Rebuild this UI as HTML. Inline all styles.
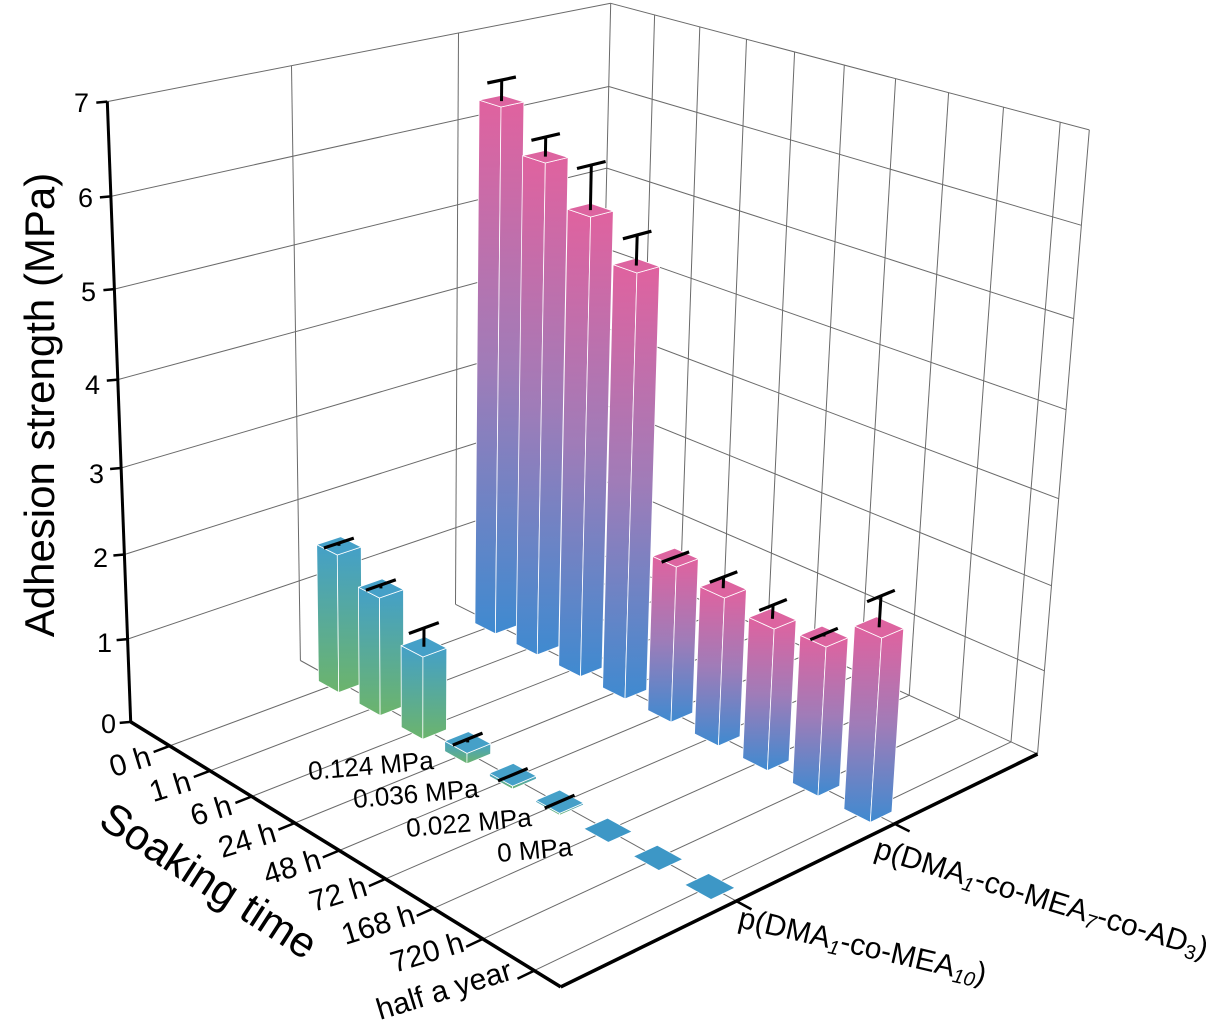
<!DOCTYPE html>
<html><head><meta charset="utf-8">
<style>
html,body{margin:0;padding:0;background:#fff;}
svg{display:block;font-family:"Liberation Sans",Arial,sans-serif;}
</style></head>
<body>
<svg id="s" xmlns="http://www.w3.org/2000/svg" width="1211" height="1021" viewBox="0 0 1211 1021">
<defs>
<linearGradient id="pg" x1="0" y1="0" x2="0" y2="1">
<stop offset="0" stop-color="#e0629f"/><stop offset="0.5" stop-color="#a07cb8"/><stop offset="1" stop-color="#3f8ad0"/>
</linearGradient>
<linearGradient id="bg" x1="0" y1="0" x2="0" y2="1">
<stop offset="0" stop-color="#44a0c8"/><stop offset="1" stop-color="#6cb46c"/>
</linearGradient>
</defs>
<g id="grid"></g>
<g id="bars"></g>
<g id="axes"></g>
<g font-size="27" text-anchor="end" fill="#000">
<text x="116" y="733">0</text>
<text x="112" y="652">1</text>
<text x="108" y="567">2</text>
<text x="104" y="483">3</text>
<text x="100" y="394">4</text>
<text x="96" y="301">5</text>
<text x="93" y="207">6</text>
<text x="89" y="112">7</text>
</g>
<text x="54" y="405" font-size="42" text-anchor="middle" transform="rotate(-90 54 405)">Adhesion strength (MPa)</text>
<g font-size="30" text-anchor="end">
<text x="153" y="765" transform="rotate(-17 153 765)">0 h</text>
<text x="193" y="790" transform="rotate(-17 193 790)">1 h</text>
<text x="234" y="814" transform="rotate(-17 234 814)">6 h</text>
<text x="278" y="841" transform="rotate(-17 278 841)">24 h</text>
<text x="323" y="868" transform="rotate(-17 323 868)">48 h</text>
<text x="369" y="895" transform="rotate(-17 369 895)">72 h</text>
<text x="417" y="923" transform="rotate(-17 417 923)">168 h</text>
<text x="466" y="951" transform="rotate(-17 466 951)">720 h</text>
<text x="514" y="979" transform="rotate(-17 514 979)">half a year</text>
</g>
<text x="201" y="893" font-size="43" text-anchor="middle" transform="rotate(33 201 893)">Soaking time</text>
<g font-size="26">
<text x="309" y="780" transform="rotate(-5 309 780)">0.124 MPa</text>
<text x="354" y="808" transform="rotate(-5 354 808)">0.036 MPa</text>
<text x="407" y="837" transform="rotate(-5 407 837)">0.022 MPa</text>
<text x="498" y="862" transform="rotate(-5 498 862)">0 MPa</text>
</g>
<g font-size="30">
<text x="737" y="927" transform="rotate(13 737 927)">p(DMA<tspan font-size="20" font-style="italic" dy="5">1</tspan><tspan dy="-5">-co-MEA</tspan><tspan font-size="20" font-style="italic" dy="5">10</tspan><tspan dy="-5">)</tspan></text>
<text x="873" y="857" transform="rotate(17 873 857)">p(DMA<tspan font-size="20" font-style="italic" dy="5">1</tspan><tspan dy="-5">-co-MEA</tspan><tspan font-size="20" font-style="italic" dy="5">7</tspan><tspan dy="-5">-co-AD</tspan><tspan font-size="20" dy="5">3</tspan><tspan dy="-5">)</tspan></text>
</g>
</svg>
<script>
(function(){
var pts=[[0,0,0,131,723],[0,0,7,107,102],[9.5,0,0,570,990],[9.5,1,0,1037,757],[0,1,7,612,2],[9.5,1,7,1090,128],[9,1,7,1059,123],[9,1,0,1010,741],[9,0,0,527,966],[1,0,0,168,746],[0,1/3,0,300,660],[0,2/3,0,457,603],[0,2/3,7,458,35]];
var A=[],r=[];
pts.forEach(function(p){var X=p[0],Y=p[1],Z=p[2],x=p[3],y=p[4];
A.push([X,Y,Z,1,0,0,0,0,-x*X,-x*Y,-x*Z]);r.push(x);
A.push([0,0,0,0,X,Y,Z,1,-y*X,-y*Y,-y*Z]);r.push(y);});
var n=11,N=[],b=[];
for(var i=0;i<n;i++){N.push([]);b.push(0);for(var j=0;j<n;j++){var s=0;for(var k=0;k<A.length;k++)s+=A[k][i]*A[k][j];N[i].push(s);}for(var k=0;k<A.length;k++)b[i]+=A[k][i]*r[k];}
for(var c=0;c<n;c++){var m=c;for(var i=c+1;i<n;i++)if(Math.abs(N[i][c])>Math.abs(N[m][c]))m=i;
var t=N[c];N[c]=N[m];N[m]=t;t=b[c];b[c]=b[m];b[m]=t;
for(var i=c+1;i<n;i++){var f=N[i][c]/N[c][c];for(var j=c;j<n;j++)N[i][j]-=f*N[c][j];b[i]-=f*b[c];}}
var p=new Array(n);
for(var i=n-1;i>=0;i--){var s=b[i];for(var j=i+1;j<n;j++)s-=N[i][j]*p[j];p[i]=s/N[i][i];}
function P(u,s,z){var w=p[8]*u+p[9]*s+p[10]*z+1;return [(p[0]*u+p[1]*s+p[2]*z+p[3])/w,(p[4]*u+p[5]*s+p[6]*z+p[7])/w];}
var NS="http://www.w3.org/2000/svg";
function el(g,name,at){var e=document.createElementNS(NS,name);for(var k in at)e.setAttribute(k,at[k]);document.getElementById(g).appendChild(e);return e;}
function L(g,a,b2,col,w){el(g,"line",{x1:a[0].toFixed(1),y1:a[1].toFixed(1),x2:b2[0].toFixed(1),y2:b2[1].toFixed(1),stroke:col,"stroke-width":w,"stroke-linecap":"butt"});}
function L3(g,a,b2,col,w){L(g,P(a[0],a[1],a[2]),P(b2[0],b2[1],b2[2]),col,w);}
function poly(g,arr,fill){el(g,"polygon",{points:arr.map(function(q){var v=P(q[0],q[1],q[2]);return v[0].toFixed(1)+","+v[1].toFixed(1);}).join(" "),fill:fill,stroke:"#fff","stroke-width":"0.8","stroke-linejoin":"round"});}
var G="#6a6a6a",U=9.5;
for(var z=1;z<=7;z++)L3("grid",[0,0,z],[0,1,z],G,1);
[1/3,2/3,1].forEach(function(s){L3("grid",[0,s,0],[0,s,7],G,1);});
for(var z=0;z<=7;z++)L3("grid",[0,1,z],[U,1,z],G,1);
for(var u=1;u<=9;u++)L3("grid",[u,1,0],[u,1,7],G,1);
L3("grid",[U,1,0],[U,1,7],G,1);
for(var u=1;u<=9;u++)L3("grid",[u,0,0],[u,1,0],G,1);
[1/3,2/3].forEach(function(s){L3("grid",[0,s,0],[U,s,0],G,1);});
L3("axes",[0,0,0],[0,0,7],"#000",3);
L3("axes",[0,0,0],[U,0,0],"#000",3.5);
L3("axes",[U,0,0],[U,1,0],"#000",3.5);
for(var z=0;z<=7;z++){var a=P(0,0,z);L("axes",a,[a[0]-11,a[1]+1],"#000",2.5);}
for(var u=1;u<=9;u++)L3("axes",[u,0,0],[u,-0.03,0],"#000",2.5);
[1/3,2/3].forEach(function(s){L3("axes",[U,s,0],[U+0.28,s,0],"#000",2.5);});
var wu=0.25,ws=0.024;
function solve(f,target){var lo=0,hi=9;for(var i=0;i<50;i++){var m=(lo+hi)/2;if(f(m)>target)lo=m;else hi=m;}return (lo+hi)/2;}
function bar(uc,sc,h,grad,top,cap){
 if(h<0.002){poly("bars",[[uc-wu,sc-ws,0],[uc+wu,sc-ws,0],[uc+wu,sc+ws,0],[uc-wu,sc+ws,0]],top);}
 else{
 poly("bars",[[uc-wu,sc-ws,0],[uc+wu,sc-ws,0],[uc+wu,sc-ws,h],[uc-wu,sc-ws,h]],grad);
 poly("bars",[[uc+wu,sc-ws,0],[uc+wu,sc+ws,0],[uc+wu,sc+ws,h],[uc+wu,sc-ws,h]],grad);
 poly("bars",[[uc-wu,sc-ws,h],[uc+wu,sc-ws,h],[uc+wu,sc+ws,h],[uc-wu,sc+ws,h]],top);}
 if(cap!=null){var e=Math.max(cap,0);L3("bars",[uc,sc,h],[uc,sc,h+e],"#000",3);L3("bars",[uc,sc-0.03,h+e],[uc,sc+0.03,h+e],"#000",3.2);}
}
var ptop=[107,163,217,273,567,598,629,647,638],pcap=[80,137,165,235,557,577,605,634,596];
var sp=2/3;
for(var i=0;i<9;i++){var uc=i+1;
 var h=solve(function(hh){return P(uc+wu,sp-ws,hh)[1];},ptop[i]);
 var ch=solve(function(hh){return P(uc,sp,hh)[1];},pcap[i]);
 bar(uc,sp,h,"url(#pg)","#dd64a0",ch-h);}
var sb=1/3;
var btop=[555,598,657],bcap=[543,585,628];
for(var i=0;i<3;i++){var uc=i+1;
 var h=solve(function(hh){return P(uc+wu,sb-ws,hh)[1];},btop[i]);
 var ch=solve(function(hh){return P(uc,sb,hh)[1];},bcap[i]);
 bar(uc,sb,h,"url(#bg)","#45a0c8",ch-h);}
bar(4,sb,0.124,"url(#bg)","#45a0c8",0.04);
bar(5,sb,0.036,"url(#bg)","#45a0c8",0);
bar(6,sb,0.022,"url(#bg)","#45a0c8",0);
bar(7,sb,0,"","#3d97c6",null);
bar(8,sb,0,"","#3d97c6",null);
bar(9,sb,0,"","#3d97c6",null);
})();
</script>
</body></html>
